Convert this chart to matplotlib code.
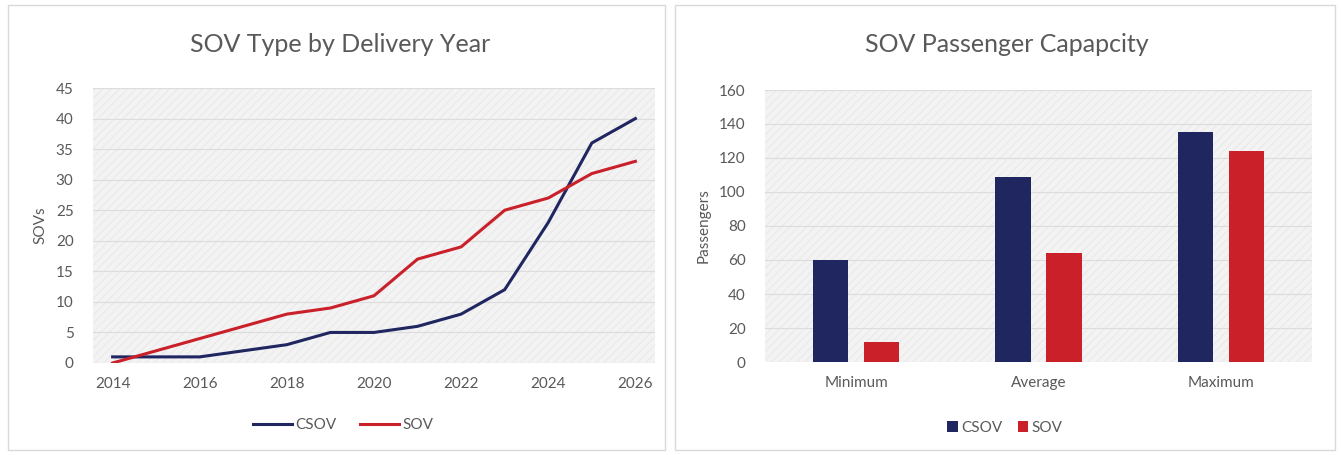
import matplotlib.pyplot as plt
from matplotlib.patches import Rectangle
import numpy as np

years = [2014, 2015, 2016, 2017, 2018, 2019, 2020, 2021, 2022, 2023, 2024, 2025, 2026]
csov_counts = [1, 1, 1, 2, 3, 5, 5, 6, 8, 12, 23, 36, 40]
sov_counts = [0, 2, 4, 6, 8, 9, 11, 17, 19, 25, 27, 31, 33]

capacity_labels = ["Minimum", "Average", "Maximum"]
csov_capacity = [60, 109, 135]
sov_capacity = [12, 64, 124]

NAVY = "#1f2660"
RED = "#c9202a"
TXT = "#595959"

plt.rcParams['font.family'] = ['Lato', 'DejaVu Sans']

fig = plt.figure(figsize=(13.42, 4.55), dpi=100)

# panel frames
for x0, w in [(8, 657), (675, 660)]:
    fig.patches.append(Rectangle((x0 / 1342, 5 / 455), w / 1342, 445 / 455,
                                 transform=fig.transFigure, fill=False,
                                 edgecolor="#d9d9d9", linewidth=1))


def style_axes(ax):
    ax.set_facecolor("#f3f3f3")
    ax.patch.set_hatch("////")
    ax.patch.set_edgecolor("#ebebeb")
    for s in ax.spines.values():
        s.set_visible(False)
    ax.tick_params(length=0, colors=TXT, labelsize=11)
    ax.grid(axis="y", color="#dcdcdc", linewidth=0.8)
    ax.set_axisbelow(True)


# line chart
ax1 = fig.add_axes([93 / 1342, 1 - 363 / 455, 562 / 1342, 275 / 455])
style_axes(ax1)
ax1.plot(years, csov_counts, color=NAVY, linewidth=2.2, label="CSOV")
ax1.plot(years, sov_counts, color=RED, linewidth=2.2, label="SOV")
ax1.set_xlim(2013.55, 2026.45)
ax1.set_ylim(0, 45)
ax1.set_xticks(years[::2])
ax1.set_yticks(range(0, 46, 5))
ax1.tick_params(axis="x", pad=10)
ax1.tick_params(axis="y", pad=14)
ax1.set_ylabel("SOVs", color=TXT, fontsize=11, labelpad=6)
fig.text(340 / 1342, 1 - 45 / 455, "SOV Type by Delivery Year", color=TXT, fontsize=18,
         ha="center", va="center")
h1, l1 = ax1.get_legend_handles_labels()
fig.legend(h1, l1, loc="center", bbox_to_anchor=(343 / 1342, 1 - 425 / 455), ncol=2,
           frameon=False, fontsize=11, labelcolor=TXT, handlelength=2.6,
           handletextpad=0.2, columnspacing=1.5)

# bar chart
ax2 = fig.add_axes([765 / 1342, 1 - 362 / 455, 547 / 1342, 272 / 455])
style_axes(ax2)
x = np.arange(len(capacity_labels))
bw = 0.195
ax2.bar(x - 0.14, csov_capacity, bw, color=NAVY, label="CSOV")
ax2.bar(x + 0.14, sov_capacity, bw, color=RED, label="SOV")
ax2.set_xlim(-0.5, 2.5)
ax2.set_ylim(0, 160)
ax2.set_xticks(x)
ax2.set_xticklabels(capacity_labels)
ax2.set_yticks(range(0, 161, 20))
ax2.tick_params(axis="x", pad=10)
ax2.tick_params(axis="y", pad=14)
ax2.set_ylabel("Passengers", color=TXT, fontsize=11, labelpad=6)
fig.text(1007 / 1342, 1 - 45 / 455, "SOV Passenger Capapcity", color=TXT, fontsize=18,
         ha="center", va="center")
h2, l2 = ax2.get_legend_handles_labels()
fig.legend(h2, l2, loc="center", bbox_to_anchor=(1005 / 1342, 1 - 428 / 455), ncol=2,
           frameon=False, fontsize=11, labelcolor=TXT, handlelength=0.7, handleheight=0.7,
           handletextpad=0.2, columnspacing=1.0)

fig.savefig("out.png", dpi=100)
